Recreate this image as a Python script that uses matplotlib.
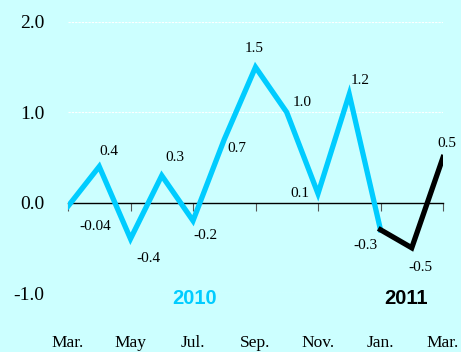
import matplotlib
matplotlib.use("Agg")
import matplotlib.pyplot as plt
import matplotlib.transforms as mtransforms

# monthly change, Mar 2010 .. Mar 2011
months = ["Mar.", "Apr.", "May", "Jun.", "Jul.", "Aug.", "Sep.", "Oct.", "Nov.", "Dec.", "Jan.", "Feb.", "Mar."]
values = [-0.04, 0.4, -0.4, 0.3, -0.2, 0.7, 1.5, 1.0, 0.1, 1.2, -0.3, -0.5, 0.5]
labels = ["-0.04", "0.4", "-0.4", "0.3", "-0.2", "0.7", "1.5", "1.0", "0.1", "1.2", "-0.3", "-0.5", "0.5"]
split = 10  # 2011 starts at Jan.
y_ticks = [-1.0, 0.0, 1.0, 2.0]
grid_levels = [-1.0, 1.0, 2.0]

# label offsets in pixels (dx, dy up)
offsets = [(27, -20), (10, 15), (18, -20), (13, 18), (12, -15), (13, -9),
           (-1, 19), (15, 10), (-18, 0), (11, 14), (-15, -16), (9, -20), (4, 14)]

BG = "#ccffff"
CYAN = "#00ccff"
SERIF = "Liberation Serif"
SANS = "Liberation Sans"

fig = plt.figure(figsize=(4.61, 3.52), dpi=100, facecolor=BG)
ax = fig.add_axes([68 / 461, 59 / 352, 375 / 461, 271 / 352])
ax.set_facecolor(BG)

x = list(range(len(values)))
ax.plot(x[:split + 1], values[:split + 1], color=CYAN, linewidth=3.8,
        solid_joinstyle="miter", zorder=3)
ax.plot(x[split:], values[split:], color="black", linewidth=3.8,
        solid_joinstyle="miter", zorder=3)

for xi, v, lab, (dx, dy) in zip(x, values, labels, offsets):
    ax.annotate(lab, (xi, v), xytext=(dx * 0.72, dy * 0.72), textcoords="offset points",
                ha="center", va="center", fontsize=11, family=SERIF, zorder=4)

for g in grid_levels:
    ax.axhline(g, color="white", linewidth=0.8, linestyle=(0, (2, 1)), zorder=1)

ax.set_xlim(0, len(values) - 1)
ax.set_ylim(-1, 2)

for side in ["top", "right", "left"]:
    ax.spines[side].set_visible(False)
ax.spines["bottom"].set_position(("data", 0))
ax.spines["bottom"].set_linewidth(1.0)
ax.spines["bottom"].set_zorder(2)

tick_pos = x[::2]
ax.set_xticks(tick_pos)
ax.tick_params(axis="x", direction="out", length=6, width=0.8, color="#555555",
               labelbottom=False)
trans = mtransforms.blended_transform_factory(ax.transData, ax.transAxes)
for p in tick_pos:
    ax.text(p, -0.185, months[p], transform=trans, ha="center", va="center",
            fontsize=12.5, family=SERIF)

ax.set_yticks(y_ticks)
ax.set_yticklabels([f"{t:.1f}" for t in y_ticks], fontsize=14, family=SERIF)
ax.tick_params(axis="y", length=0, pad=17)

ax.text(4.06, -1.063, "2010", color=CYAN, fontsize=14.5, fontweight="bold",
        family=SANS, ha="center", va="center")
ax.text(10.8, -1.063, "2011", color="black", fontsize=14.5, fontweight="bold",
        family=SANS, ha="center", va="center")

fig.savefig("out.png", dpi=100, facecolor=BG)
